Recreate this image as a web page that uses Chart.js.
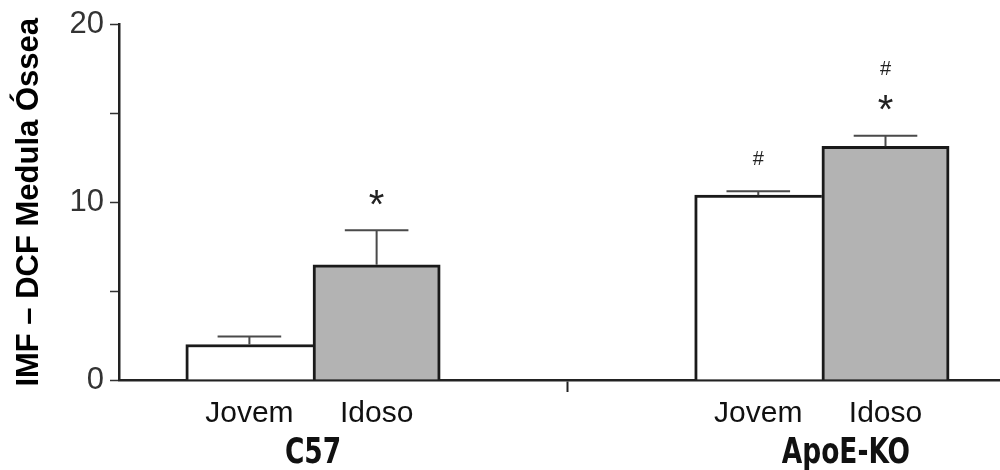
<!DOCTYPE html>
<html>
<head>
<meta charset="utf-8">
<script src="https://cdn.jsdelivr.net/npm/chart.js@4.4.1/dist/chart.umd.min.js"></script>
<style>
  html, body { margin: 0; background: #fff; }
  #wrap { width: 1000px; height: 470px; }
</style>
</head>
<body>
<div id="wrap"><canvas id="chart"></canvas></div>
<script>
// Dados
const groups     = ['C57', 'ApoE-KO'];
const categories = ['Jovem', 'Idoso', 'Jovem', 'Idoso'];
const means      = [2.0, 6.48, 10.4, 13.15];
const sems       = [0.45, 1.95, 0.22, 0.6];
const marks      = [[], ['*'], ['#'], ['*', '#']];   // de baixo para cima
const yLabels    = [0, 10, 20];

// posicoes no eixo x: 2 barras por grupo, espaco de 2 entre grupos
const positions = categories.map((_, i) => 1 + i + 2 * Math.floor(i / 2));
const divider = 3.5;
const groupNudge = [0, 24];

const SANS = '"Liberation Sans", Arial, sans-serif';
const NARROW = '"Liberation Sans Narrow", "DejaVu Sans Condensed", sans-serif';

const errorBars = {
  id: 'errorBars',
  afterDatasetsDraw(chart){
    const { ctx, scales: { y } } = chart;
    const meta = chart.getDatasetMeta(0);
    ctx.save();
    meta.data.forEach((bar, i) => {
      const top = y.getPixelForValue(means[i] + sems[i]);
      const half = bar.width / 4;
      ctx.strokeStyle = '#4a4a4a'; ctx.lineWidth = 2;
      ctx.beginPath();
      ctx.moveTo(bar.x, bar.y); ctx.lineTo(bar.x, top);
      ctx.moveTo(bar.x - half, top); ctx.lineTo(bar.x + half, top);
      ctx.stroke();

      let cy = top - 33;
      marks[i].forEach(m => {
        ctx.font = (m === '*' ? '40px ' : '20px ') + SANS;
        ctx.fillStyle = '#222';
        ctx.textAlign = 'center'; ctx.textBaseline = 'alphabetic';
        const mt = ctx.measureText(m);
        ctx.fillText(m, bar.x, cy + (mt.actualBoundingBoxAscent - mt.actualBoundingBoxDescent) / 2);
        cy -= 35;
      });
    });
    ctx.restore();
  }
};

const groupLabels = {
  id: 'groupLabels',
  afterDraw(chart){
    const { ctx, scales: { x } } = chart;
    ctx.save();
    ctx.font = 'bold 35px ' + NARROW;
    ctx.fillStyle = '#111';
    ctx.textAlign = 'center'; ctx.textBaseline = 'alphabetic';
    groups.forEach((g, gi) => {
      const px = positions.filter((_, i) => Math.floor(i / 2) === gi).map(v => x.getPixelForValue(v));
      const cx = (px[0] + px[px.length - 1]) / 2 + groupNudge[gi];
      ctx.save();
      ctx.translate(cx, x.top + 83);
      ctx.scale(0.84, 1);
      ctx.fillText(g, 0, 0);
      ctx.restore();
    });
    ctx.restore();
  }
};

new Chart(document.getElementById('chart'), {
  type: 'bar',
  data: {
    datasets: [{
      data: positions.map((p, i) => ({ x: p, y: means[i] })),
      backgroundColor: categories.map(c => c === 'Jovem' ? '#ffffff' : '#b3b3b3'),
      borderColor: '#1a1a1a',
      borderWidth: ctx => categories[ctx.dataIndex] === 'Jovem'
        ? { left: 3, top: 3, right: 0, bottom: 0 }
        : { left: 3, top: 3, right: 3, bottom: 0 },
      borderSkipped: false,
      categoryPercentage: 1,
      barPercentage: 1
    }]
  },
  options: {
    responsive: true,
    maintainAspectRatio: false,
    animation: false,
    layout: { padding: { top: 21, left: 0, right: 0, bottom: 0 } },
    plugins: { legend: { display: false }, tooltip: { enabled: false } },
    scales: {
      x: {
        type: 'linear', min: -0.025, max: 6.9, offset: false,
        afterBuildTicks: s => { s.ticks = [...positions, divider].sort((a, b) => a - b).map(v => ({ value: v })); },
        afterFit: s => { s.height = 90; },
        ticks: {
          autoSkip: false, maxRotation: 0, padding: 4, color: '#111',
          font: { family: SANS, size: 30 },
          callback: v => { const i = positions.indexOf(v); return i >= 0 ? categories[i] : ''; }
        },
        grid: {
          offset: false, drawOnChartArea: false, tickLength: 12, tickWidth: 2,
          tickColor: c => (c.tick && c.tick.value === divider) ? '#222' : 'rgba(0,0,0,0)'
        },
        border: { color: '#222', width: 2.5 }
      },
      y: {
        min: 0, max: 20,
        afterFit: s => { s.width = 119; },
        ticks: {
          stepSize: 5, padding: 6, color: '#333',
          font: { family: SANS, size: 31 },
          callback: v => yLabels.includes(v) ? v : ''
        },
        grid: { drawOnChartArea: false, tickLength: 9, tickWidth: 1.5, tickColor: '#333' },
        border: { color: '#222', width: 2.5 },
        title: {
          display: true, text: 'IMF – DCF Medula Óssea', color: '#000',
          font: { family: SANS, weight: 'bold', size: 31 },
          padding: { top: 11, bottom: 0 }
        }
      }
    }
  },
  plugins: [errorBars, groupLabels]
});
</script>
</body>
</html>
